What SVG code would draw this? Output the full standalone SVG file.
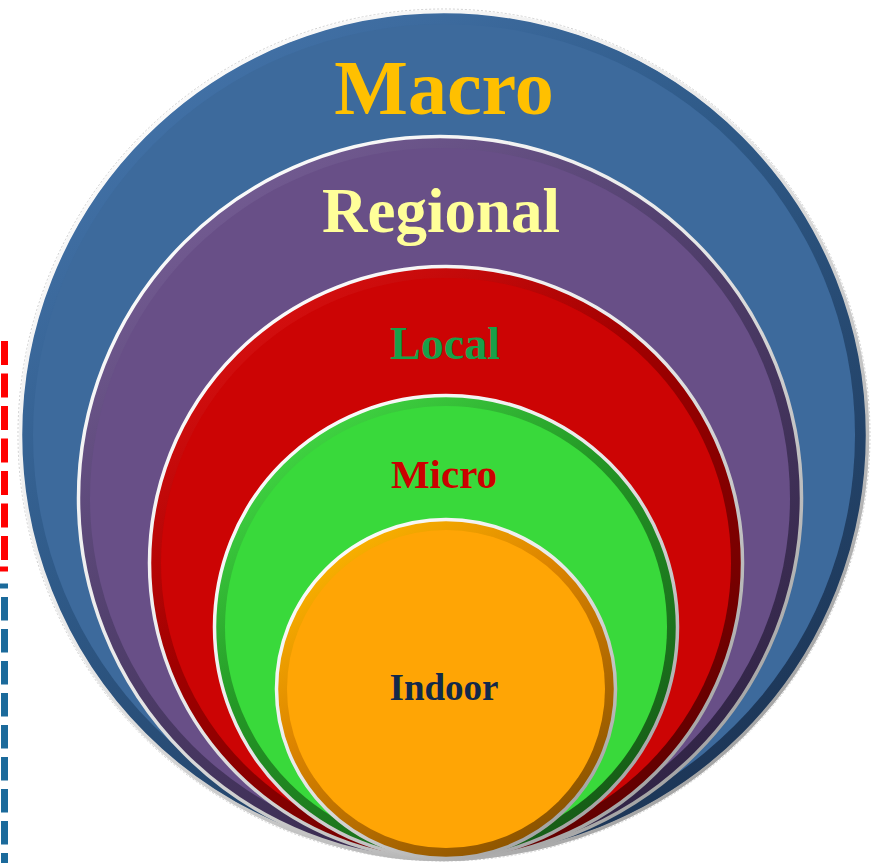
<svg xmlns="http://www.w3.org/2000/svg" width="873" height="863" viewBox="0 0 873 863">
  <defs>
    <linearGradient id="rim" x1="0.1" y1="0" x2="0.9" y2="1">
      <stop offset="0" stop-color="#ffffff"/>
      <stop offset="0.45" stop-color="#e8e8e8"/>
      <stop offset="1" stop-color="#959595"/>
    </linearGradient>
    <linearGradient id="bMacro" x1="0.15" y1="0" x2="0.85" y2="1">
      <stop offset="0" stop-color="#4676ad"/>
      <stop offset="0.4" stop-color="#2f5a88"/>
      <stop offset="1" stop-color="#1a3150"/>
    </linearGradient>
    <linearGradient id="bRegional" x1="0.15" y1="0" x2="0.85" y2="1">
      <stop offset="0" stop-color="#7a619a"/>
      <stop offset="0.4" stop-color="#52406e"/>
      <stop offset="1" stop-color="#2c2040"/>
    </linearGradient>
    <linearGradient id="bLocal" x1="0.15" y1="0" x2="0.85" y2="1">
      <stop offset="0" stop-color="#e21212"/>
      <stop offset="0.4" stop-color="#a00000"/>
      <stop offset="1" stop-color="#580000"/>
    </linearGradient>
    <linearGradient id="bMicro" x1="0.15" y1="0" x2="0.85" y2="1">
      <stop offset="0" stop-color="#46e248"/>
      <stop offset="0.4" stop-color="#249826"/>
      <stop offset="1" stop-color="#145314"/>
    </linearGradient>
    <linearGradient id="bIndoor" x1="0.15" y1="0" x2="0.85" y2="1">
      <stop offset="0" stop-color="#ffbb00"/>
      <stop offset="0.4" stop-color="#dc8400"/>
      <stop offset="1" stop-color="#7f4c00"/>
    </linearGradient>
    <style>
      .rim { fill: none; stroke: url(#rim); stroke-width: 3.5; }
      .halo { fill: none; stroke: #cfcfcf; stroke-width: 1; stroke-dasharray: 2 2; }
      .lbl { font-family: "Liberation Serif", "Times New Roman", serif; font-weight: bold; text-anchor: middle; }
    </style>
  </defs>

  <g id="frames">
    <line x1="4.5" y1="341" x2="4.5" y2="566" stroke="#ff0000" stroke-width="7" stroke-dasharray="24 8.5"/>
    <line x1="0" y1="569" x2="8" y2="569" stroke="#ff0000" stroke-width="5"/>
    <line x1="0" y1="586" x2="8" y2="586" stroke="#1b6a9b" stroke-width="5"/>
    <line x1="4.5" y1="597" x2="4.5" y2="870" stroke="#1b6a9b" stroke-width="7" stroke-dasharray="23.5 8.5"/>
  </g>

  <g id="macro">
    <circle class="halo" cx="444" cy="435" r="426"/>
    <circle cx="444" cy="435" r="422.5" fill="url(#bMacro)"/>
    <circle cx="444" cy="435" r="411" fill="#3d6a9c"/>
    <circle class="rim" cx="444" cy="435" r="423.5"/>
    <text class="lbl" x="444" y="114" font-size="78" fill="#ffc000">Macro</text>
  </g>

  <g id="regional">
    <circle cx="440" cy="498" r="361.5" fill="url(#bRegional)"/>
    <circle cx="440" cy="498" r="350" fill="#684f87"/>
    <circle class="rim" cx="440" cy="498" r="361.5"/>
    <text class="lbl" x="441" y="232" font-size="63" fill="#ffff99">Regional</text>
  </g>

  <g id="local">
    <circle cx="446" cy="563" r="296.5" fill="url(#bLocal)"/>
    <circle cx="446" cy="563" r="285" fill="#cc0404"/>
    <circle class="rim" cx="446" cy="563" r="296.5"/>
    <text class="lbl" x="445" y="359" font-size="46" fill="#18a04a">Local</text>
  </g>

  <g id="micro">
    <circle cx="446" cy="627" r="231.5" fill="url(#bMicro)"/>
    <circle cx="446" cy="627" r="221" fill="#39d93b"/>
    <circle class="rim" cx="446" cy="627" r="231.5"/>
    <text class="lbl" x="444" y="488" font-size="41" fill="#cc0000">Micro</text>
  </g>

  <g id="indoor">
    <circle cx="446" cy="689" r="169.5" fill="url(#bIndoor)"/>
    <circle cx="446" cy="689" r="159" fill="#ffa505"/>
    <circle class="rim" cx="446" cy="689" r="169.5"/>
    <text class="lbl" x="444" y="700" font-size="37" fill="#12294a">Indoor</text>
  </g>
</svg>
